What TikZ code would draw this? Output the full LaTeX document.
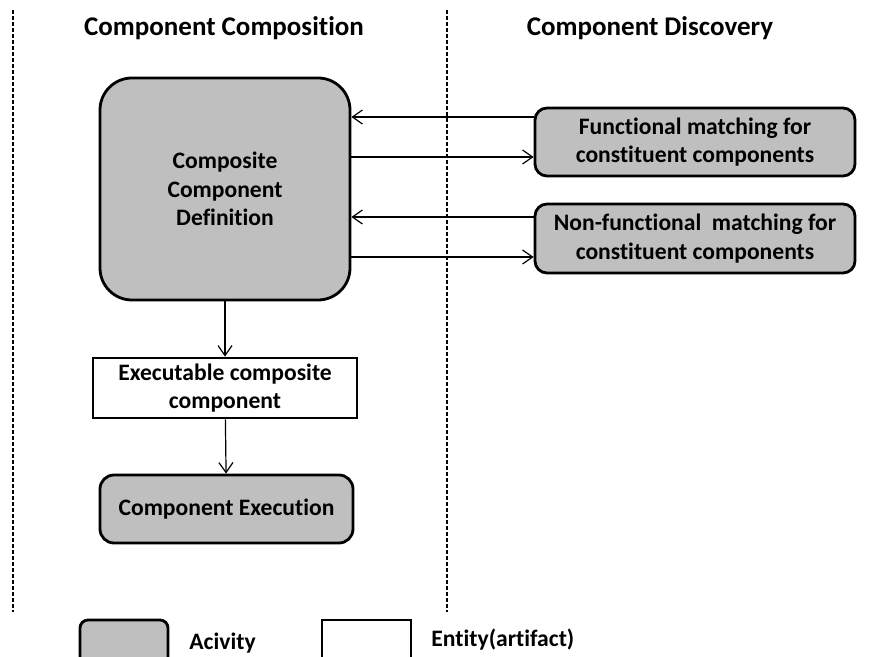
\documentclass[tikz,border=0pt]{standalone}
\usepackage{fontspec}
\setmainfont{Carlito}[RawFeature={-liga}]
\usetikzlibrary{arrows.meta,positioning}

\begin{document}
\begin{tikzpicture}[x=0.5pt,y=-0.5pt,
  activity/.style={draw,line width=1.4pt,fill=gray!50,align=center,inner sep=0pt,
    font=\fontsize{11.8}{14.2}\selectfont\bfseries},
  entity/.style={draw,line width=1.4pt,fill=white,align=center,inner sep=0pt,
    font=\fontsize{11.8}{14}\selectfont\bfseries},
  header/.style={font=\fontsize{13.5}{16}\selectfont\bfseries},
  legendlabel/.style={anchor=west,inner sep=0pt,font=\fontsize{11.8}{14}\selectfont\bfseries},
  divider/.style={line width=0.6pt,dash pattern=on 2pt off 1pt},
  arr/.style={line width=0.6pt,-{Straight Barb[length=5pt,width=7pt]}}]
\useasboundingbox (0,0) rectangle (871,657);
\clip (0,0) rectangle (871,657);

\draw[divider] (13,10) -- (13,612);
\draw[divider] (447,10) -- (447,612);

\node[header] (hcomp) at (224,28) {Component Composition};
\node[header] (hdisc) at (650,28) {Component Discovery};

\node[activity,rounded corners=16pt,minimum width=125pt,minimum height=111pt]
  (def) at (225,189) {Composite\\Component\\Definition};
\node[activity,rounded corners=6pt,minimum width=160pt,minimum height=34pt]
  (fm) at (695,142) {Functional matching for\\constituent components};
\node[activity,rounded corners=6pt,minimum width=160pt,minimum height=34.5pt]
  (nfm) at (695,238.5) {Non-functional\ \ matching for\\constituent components};
\node[entity,minimum width=132pt,minimum height=30pt]
  (exe) at (225,388) {Executable composite\\component};
\node[activity,rounded corners=7pt,minimum width=126.5pt,minimum height=34pt]
  (run) at (226.5,509) {Component Execution};

\coordinate (f1) at ([yshift=12.5pt]fm.west);
\coordinate (f2) at ([yshift=-7.5pt]fm.west);
\coordinate (n1) at ([yshift=10.75pt]nfm.west);
\coordinate (n2) at ([yshift=-9.25pt]nfm.west);
\draw[arr] (f1) -- (f1 -| def.east);
\draw[arr] (f2 -| def.east) -- (f2);
\draw[arr] (n1) -- (n1 -| def.east);
\draw[arr] (n2 -| def.east) -- (n2);
\draw[arr] (def) -- (exe);
\draw[arr] (exe) -- (run);

\node[activity,rounded corners=4pt,minimum width=44pt,minimum height=25pt]
  (legact) at (124,645) {};
\node[legendlabel] (legactlabel) at (189,643) {Acivity};
\node[entity,minimum width=44.5pt,minimum height=25pt]
  (legent) at (366.5,645) {};
\node[legendlabel] (legentlabel) at (431,640) {Entity(artifact)};
\end{tikzpicture}
\end{document}
